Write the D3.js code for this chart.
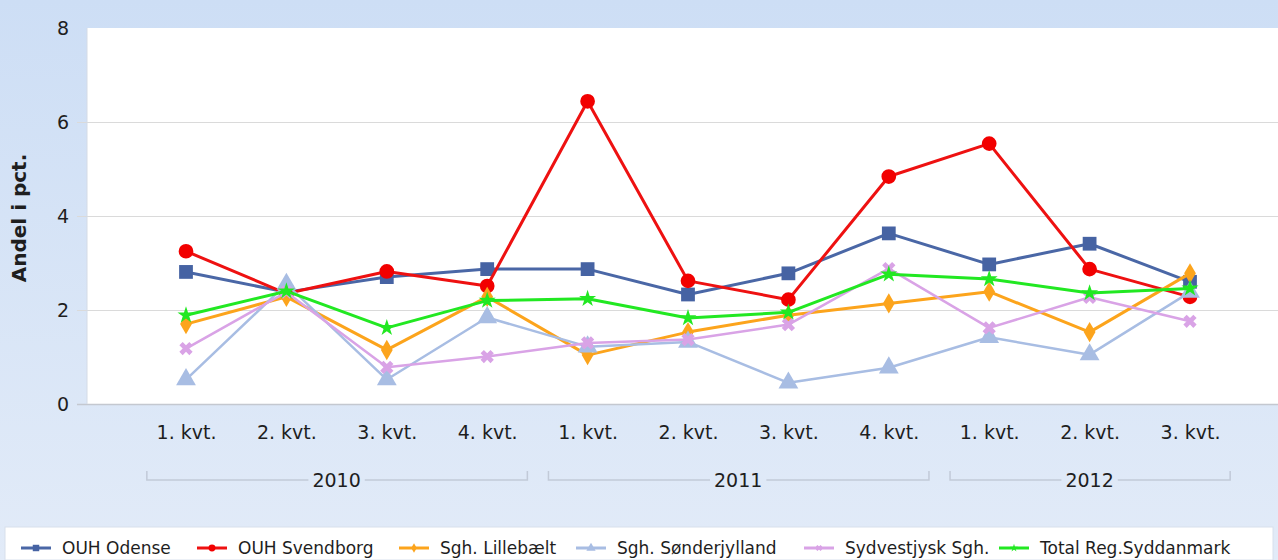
<!DOCTYPE html>
<html>
<head>
<meta charset="utf-8">
<script src="https://cdn.jsdelivr.net/npm/d3@7"></script>
<style>
  html, body { margin: 0; padding: 0; background: #fff; }
  svg { display: block; }
  text { font-family: "DejaVu Sans", sans-serif; fill: #1e1e1e; }
</style>
</head>
<body>
<svg id="chart" width="1278" height="560"></svg>
<script>
// ---------- data ----------
const quarters = ["1. kvt.","2. kvt.","3. kvt.","4. kvt.","1. kvt.","2. kvt.","3. kvt.","4. kvt.","1. kvt.","2. kvt.","3. kvt."];
const years = ["2010","2011","2012"];
const yearCounts = [4, 4, 3];
const yTicks = [0, 2, 4, 6, 8];

const seriesNames = ["OUH Odense","OUH Svendborg","Sgh. Lillebælt","Sgh. Sønderjylland","Sydvestjysk Sgh.","Total Reg.Syddanmark"];
const odense       = [2.81, 2.38, 2.70, 2.87, 2.87, 2.33, 2.78, 3.63, 2.97, 3.41, 2.60];
const svendborg    = [3.25, 2.35, 2.82, 2.51, 6.44, 2.62, 2.22, 4.84, 5.54, 2.87, 2.28];
const lillebaelt   = [1.70, 2.28, 1.15, 2.28, 1.04, 1.53, 1.89, 2.14, 2.39, 1.53, 2.78];
const sonderjylland= [0.52, 2.55, 0.52, 1.84, 1.22, 1.32, 0.45, 0.77, 1.42, 1.05, 2.38];
const sydvestjysk  = [1.18, 2.38, 0.78, 1.01, 1.30, 1.37, 1.69, 2.88, 1.62, 2.27, 1.76];
const total        = [1.89, 2.40, 1.62, 2.20, 2.24, 1.83, 1.95, 2.76, 2.66, 2.36, 2.46];

const seriesValues = [odense, svendborg, lillebaelt, sonderjylland, sydvestjysk, total];
const colors = ["#4a67a6", "#ee1111", "#fca41c", "#a8bde3", "#d9a3e6", "#22e822"];
const markerColors = ["#4663a3", "#f20000", "#fca41c", "#a8bde3", "#d9a3e6", "#22e822"];
const lineWidths = [3, 3, 3, 2.5, 2.5, 3];
const symbols = [d3.symbolSquare, d3.symbolCircle, d3.symbolDiamond, d3.symbolTriangle, d3.symbolCross, d3.symbolStar];
const symSizes = [190, 170, 120, 170, 110, 90];
const symRot = [0, 0, 0, 0, 45, 0];

// ---------- layout ----------
const W = 1278, H = 560;
const plot = { left: 87, right: 1278, top: 28, bottom: 404 };

const svg = d3.select("#chart");
const defs = svg.append("defs");
const grad = defs.append("linearGradient").attr("id","bg").attr("x1",0).attr("y1",0).attr("x2",0).attr("y2",1);
grad.append("stop").attr("offset","0%").attr("stop-color","#cddef5");
grad.append("stop").attr("offset","100%").attr("stop-color","#e2ebf8");
svg.append("rect").attr("width",W).attr("height",H).attr("fill","url(#bg)");

const x = d3.scalePoint().domain(d3.range(quarters.length)).range([186, 1190]);
const step = x.step();
const y = d3.scaleLinear().domain([0, 8]).range([plot.bottom, plot.top]);

// plot background
svg.append("rect")
  .attr("x", plot.left).attr("y", plot.top)
  .attr("width", plot.right - plot.left).attr("height", plot.bottom - plot.top)
  .attr("fill", "#ffffff");

// grid + y axis
const yAxis = d3.axisLeft(y).tickValues(yTicks).tickSize(-(plot.right - plot.left + 10)).tickPadding(8);
const gy = svg.append("g").attr("transform", `translate(${plot.left - 10},0)`).call(yAxis);
gy.select(".domain").remove();
gy.selectAll(".tick line").attr("stroke", (d) => d === 0 ? "#c4c8d0" : "#dadada").attr("stroke-width", (d)=> d===0?1.5:1.2)
  .attr("opacity", d => d === 8 ? 0 : 1);
gy.selectAll(".tick text").attr("font-size", 19).attr("fill", "#1e1e1e").attr("font-family", "DejaVu Sans, sans-serif");

// left axis line
svg.append("line").attr("x1", plot.left).attr("x2", plot.left).attr("y1", plot.top).attr("y2", plot.bottom)
  .attr("stroke", "#d4dbe6").attr("stroke-width", 1);

// y title
svg.append("text")
  .attr("transform", `translate(26,${(plot.top + plot.bottom) / 2 + 2}) rotate(-90)`)
  .attr("text-anchor", "middle")
  .attr("font-size", 20).attr("font-weight", "bold")
  .text("Andel i pct.");

// x axis category labels
const xAxis = d3.axisBottom(x).tickFormat(i => quarters[i]).tickSize(0).tickPadding(22);
const gx = svg.append("g").attr("transform", `translate(0,${plot.bottom})`).call(xAxis);
gx.select(".domain").remove();
gx.selectAll(".tick text").attr("font-size", 19).attr("fill", "#1e1e1e").attr("font-family", "DejaVu Sans, sans-serif");

// year brackets
let startIdx = 0;
const bracketY = 480;
years.forEach((yr, k) => {
  const first = startIdx, last = startIdx + yearCounts[k] - 1;
  startIdx += yearCounts[k];
  const x0 = x(first) - step * 0.39, x1 = x(last) + step * 0.4;
  const cx = (x(first) + x(last)) / 2;
  const g = svg.append("g");
  const t = g.append("text").attr("x", cx).attr("y", bracketY + 7).attr("text-anchor", "middle")
    .attr("font-size", 19).text(yr);
  const bb = t.node().getBBox();
  const gap = 4;
  g.append("path")
    .attr("d", `M${x0},${bracketY - 9}V${bracketY}H${bb.x - gap}M${bb.x + bb.width + gap},${bracketY}H${x1}V${bracketY - 9}`)
    .attr("fill", "none").attr("stroke", "#c2cad8").attr("stroke-width", 1.5);
});

// lines + markers
const line = d3.line().x((d, i) => x(i)).y(d => y(d));
seriesValues.forEach((vals, s) => {
  const g = svg.append("g");
  g.append("path").datum(vals).attr("d", line)
    .attr("fill", "none").attr("stroke", colors[s]).attr("stroke-width", lineWidths[s])
    .attr("stroke-linejoin", "round");
  g.selectAll("path.m").data(vals).join("path").attr("class", "m")
    .attr("transform", (d, i) => `translate(${x(i)},${y(d)}) rotate(${symRot[s]})`)
    .attr("d", d3.symbol().type(symbols[s]).size(symSizes[s]))
    .attr("fill", markerColors[s]);
});

// legend
const legTop = 527;
svg.append("rect").attr("x", 5).attr("y", legTop).attr("width", W - 10).attr("height", H - legTop)
  .attr("fill", "#ffffff").attr("stroke", "#d8e0ec");
const legendTextX = [62, 238, 440, 617, 845, 1040];
const leg = svg.append("g");
seriesNames.forEach((name, s) => {
  const g = leg.append("g").attr("transform", `translate(${legendTextX[s] - 41},${548})`);
  g.append("line").attr("x1", 0).attr("x2", 30).attr("y1", 0).attr("y2", 0)
    .attr("stroke", colors[s]).attr("stroke-width", 3);
  g.append("path").attr("transform", `translate(15,0) rotate(${symRot[s]})`)
    .attr("d", d3.symbol().type(symbols[s]).size(symSizes[s] * 0.22)).attr("fill", markerColors[s]);
  g.append("text").attr("x", 41).attr("y", 6).attr("font-size", 17).text(name);
});
</script>
</body>
</html>
